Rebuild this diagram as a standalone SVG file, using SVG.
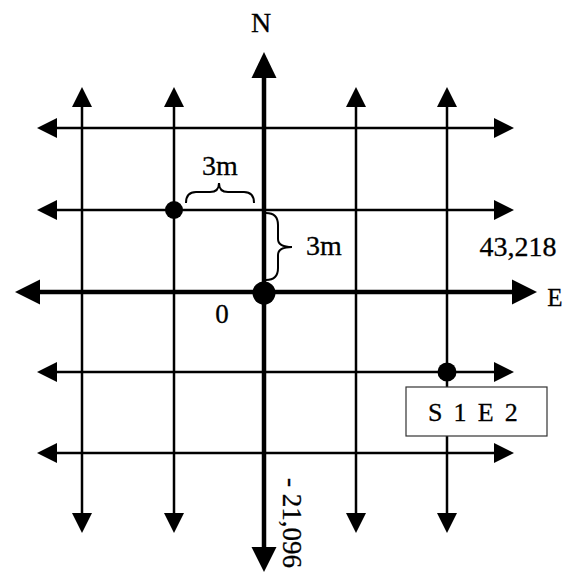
<svg xmlns="http://www.w3.org/2000/svg" width="570" height="573" viewBox="0 0 570 573">
<style>
.thin{stroke:#000;stroke-width:2.5;fill:none}
.thick{stroke:#000;stroke-width:4.5;fill:none}
.brace{stroke:#000;stroke-width:2;fill:none}
.head{fill:#000}
text{font-family:"Liberation Serif","Times New Roman",serif;fill:#000;stroke:#000;stroke-width:0.3}
</style>
<rect width="570" height="573" fill="#fff"/>
<g id="connectors">
  <g class="thin">
    <line x1="82" y1="100" x2="82" y2="520"/>
    <line x1="174" y1="100" x2="174" y2="520"/>
    <line x1="356" y1="100" x2="356" y2="520"/>
    <line x1="447" y1="100" x2="447" y2="520"/>
    <line x1="50" y1="128" x2="500" y2="128"/>
    <line x1="50" y1="210" x2="500" y2="210"/>
    <line x1="50" y1="372" x2="500" y2="372"/>
    <line x1="50" y1="453" x2="500" y2="453"/>
  </g>
  <g class="head">
    <polygon points="82,87 72,107 92,107"/>
    <polygon points="174,87 164,107 184,107"/>
    <polygon points="356,87 346,107 366,107"/>
    <polygon points="447,87 437,107 457,107"/>
    <polygon points="82,533 72,513 92,513"/>
    <polygon points="174,533 164,513 184,513"/>
    <polygon points="356,533 346,513 366,513"/>
    <polygon points="447,533 437,513 457,513"/>
    <polygon points="37,128 57,118 57,138"/>
    <polygon points="37,210 57,200 57,220"/>
    <polygon points="37,372 57,362 57,382"/>
    <polygon points="37,453 57,443 57,463"/>
    <polygon points="514,128 494,118 494,138"/>
    <polygon points="514,210 494,200 494,220"/>
    <polygon points="514,372 494,362 494,382"/>
    <polygon points="514,453 494,443 494,463"/>
  </g>
  <line class="thick" x1="264" y1="72" x2="264" y2="552"/>
  <line class="thick" x1="35" y1="292" x2="518" y2="292"/>
  <g class="head">
    <polygon points="264,52 251.5,78 276.5,78"/>
    <polygon points="264,572 251.5,547 276.5,547"/>
    <polygon points="15,292 40,279.5 40,304.5"/>
    <polygon points="537,292 512,279.5 512,304.5"/>
  </g>
  <path class="brace" d="M186,203 Q186,192 196,192 L210,192 Q219,192 219,183 Q219,192 228,192 L244,192 Q254,192 254,203"/>
  <path class="brace" d="M266,213 Q278,213 278,225 L278,239 Q278,247 292,247 Q278,247 278,255 L278,268 Q278,280 266,280"/>
</g>
<g id="origin">
  <circle cx="264" cy="293" r="11.5" fill="#000"/>
  <text x="222" y="323" font-size="27" text-anchor="middle">0</text>
</g>
<g id="point-a">
  <circle cx="174" cy="210" r="9" fill="#000"/>
</g>
<g id="point-b">
  <circle cx="447" cy="372" r="9.5" fill="#000"/>
</g>
<g id="label-s1e2">
  <rect x="406" y="387" width="141" height="49" fill="#fff" stroke="#333" stroke-width="1.2"/>
  <text x="428" y="421" font-size="26" letter-spacing="2.3">S 1 E 2</text>
</g>
<g id="labels">
  <text x="261" y="32" font-size="28" text-anchor="middle">N</text>
  <text x="555" y="306" font-size="25" text-anchor="middle">E</text>
  <text x="220" y="175" font-size="28" text-anchor="middle">3m</text>
  <text x="324" y="255" font-size="28" text-anchor="middle">3m</text>
  <text x="518" y="256" font-size="28" text-anchor="middle">43,218</text>
  <text transform="translate(283,478) rotate(90)" font-size="27">- 21,096</text>
</g>
</svg>
